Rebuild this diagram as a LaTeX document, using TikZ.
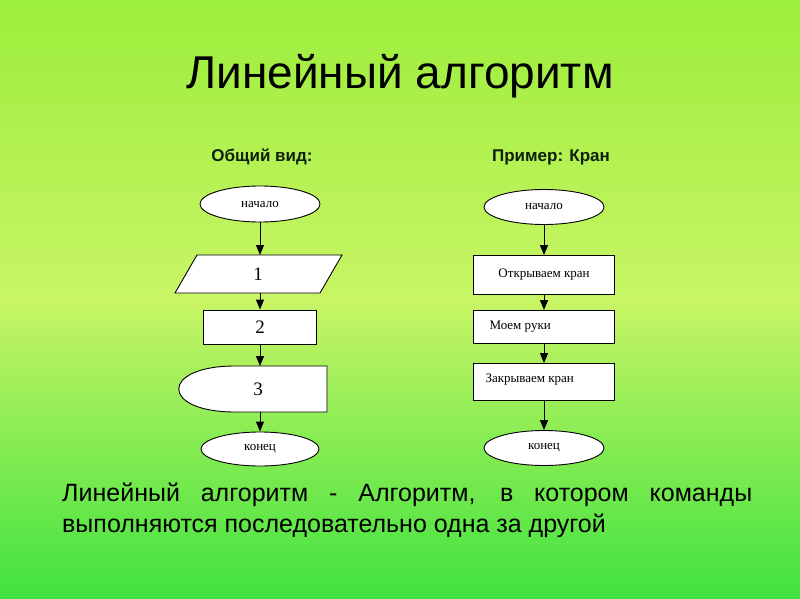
\documentclass[tikz,border=0pt]{standalone}
\usepackage{fontspec}
\setmainfont{Liberation Sans}
\newfontfamily\serif{Liberation Serif}
\usetikzlibrary{shapes.geometric,arrows.meta}
\definecolor{topg}{HTML}{9CEE3C}
\definecolor{midg}{HTML}{C8F565}
\definecolor{botg}{HTML}{3FE23F}
\begin{document}
\begin{tikzpicture}[x=1pt,y=-1pt,
  blk/.style={draw=black,fill=white,line width=0.9pt},
  arr/.style={-{Triangle[length=10pt,width=8pt]},line width=1pt},
  lab/.style={font=\serif\fontsize{13}{15}\selectfont},
  num/.style={font=\serif\fontsize{19}{21}\selectfont}]
\fill[top color=topg,bottom color=botg,middle color=midg] (0,0) rectangle (800,599);
\useasboundingbox (0,0) rectangle (800,599);
\node (title) at (400,76) {\fontsize{46}{50}\selectfont Линейный алгоритм};
\node (s1) at (262,157) {\fontsize{17}{19}\selectfont\bfseries\color[HTML]{102010}Общий вид:};
\node (s2) at (551,157) {\fontsize{17}{19}\selectfont\bfseries\color[HTML]{102010}Пример: Кран};
% left
\node[blk,ellipse,minimum width=120,minimum height=36,inner sep=0,lab] (l0) at (260,204) {начало};
\draw[blk] (197,255) -- (342,255) -- (320,293) -- (175,293) -- cycle;
\node[num] (l1) at (258,274) {1};
\node[blk,rectangle,minimum width=113,minimum height=34,inner sep=0,num] (l2) at (260,327) {2};
\draw[blk] (327,366) -- (327,412) -- (235,412) .. controls (160,412) and (160,366) .. (235,366) -- cycle;
\node[num] (l3) at (258,389) {3};
\node[blk,ellipse,minimum width=118,minimum height=34,inner sep=0,lab] (l4) at (260,449) {конец};
\coordinate (p1) at (260,255);
\coordinate (p1b) at (260,293);
\coordinate (p3) at (260,366);
\coordinate (p3b) at (260,412);
\draw[arr] (l0) -- (p1);
\draw[arr] (p1b) -- (l2);
\draw[arr] (l2) -- (p3);
\draw[arr] (p3b) -- (l4);
% right
\node[blk,ellipse,minimum width=120,minimum height=35,inner sep=0,lab] (r0) at (544,207) {начало};
\node[blk,rectangle,minimum width=141,minimum height=39,inner sep=0,lab] (r1) at (544,275) {Открываем кран};
\node[blk,rectangle,minimum width=141,minimum height=33,inner sep=0] (r2) at (544,327) {};
\node[lab,anchor=west] at (486,327) {Моем руки};
\node[blk,rectangle,minimum width=141,minimum height=37,inner sep=0] (r3) at (544,382) {};
\node[lab,anchor=west] at (482,380) {Закрываем кран};
\node[blk,ellipse,minimum width=120,minimum height=35,inner sep=0,lab] (r4) at (544,448) {конец};
\draw[arr] (r0) -- (r1);
\draw[arr] (r1) -- (r2);
\draw[arr] (r2) -- (r3);
\draw[arr] (r3) -- (r4);
% bottom text
\node[anchor=north west,inner sep=0,align=left,font=\fontsize{25}{31}\selectfont] (txt) at (62,483) {%
\hbox to 690pt{\spaceskip=0.25em plus 1fil minus 0.1em Линейный алгоритм - Алгоритм, в котором команды}\\
выполняются последовательно одна за другой};
\end{tikzpicture}
\end{document}
